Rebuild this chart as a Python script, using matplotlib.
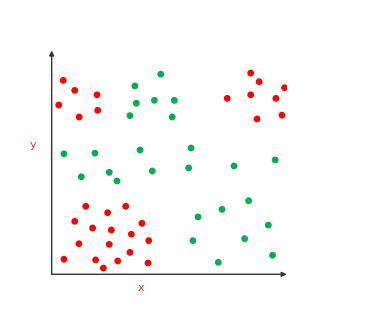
import numpy as np
import matplotlib.pyplot as plt

# red points (x, y)
red_x = [0.49, 0.98, 1.93, 0.30, 1.96, 1.17,
         8.47, 8.83, 9.91, 7.47, 8.47, 9.54, 9.80, 8.74,
         1.45, 3.15, 2.38, 0.98, 3.84, 1.74, 2.54, 3.39, 4.13,
         1.16, 2.45, 3.33, 0.52, 1.87, 2.81, 4.10, 2.20]
red_y = [8.75, 8.30, 8.10, 7.64, 7.40, 7.10,
         9.08, 8.69, 8.42, 7.94, 8.10, 7.94, 7.18, 7.01,
         3.07, 3.07, 2.78, 2.39, 2.30, 2.09, 2.00, 1.81, 1.52,
         1.38, 1.35, 0.99, 0.68, 0.65, 0.60, 0.51, 0.28]

# green points
green_x = [4.64, 3.54, 3.60, 4.37, 3.33, 5.22, 5.13,
           0.52, 1.84, 3.76, 5.93, 9.51,
           1.26, 2.45, 2.78, 4.28, 5.83, 7.76,
           8.38, 7.25, 6.23, 9.22, 6.01, 8.21, 9.40, 7.09]
green_y = [9.03, 8.50, 7.72, 7.85, 7.16, 7.85, 7.10,
           5.44, 5.47, 5.61, 5.70, 5.16,
           4.40, 4.60, 4.21, 4.66, 4.80, 4.89,
           3.32, 2.93, 2.59, 2.22, 1.52, 1.61, 0.86, 0.54]

fig = plt.figure(figsize=(3.65, 3.21), dpi=100)
ax = fig.add_axes([0.1416, 0.1455, 0.6438, 0.6903])
ax.set_xlim(0, 10)
ax.set_ylim(0, 10)

ax.scatter(red_x, red_y, s=24, color='#ff0000', edgecolors='none', zorder=3)
ax.scatter(green_x, green_y, s=24, color='#00b050', edgecolors='none', zorder=3)

# axes drawn as arrows
for s in ax.spines.values():
    s.set_visible(False)
ax.set_xticks([])
ax.set_yticks([])
arrow = dict(arrowstyle='-|>', color='#333333', lw=1.0, mutation_scale=7,
             shrinkA=0, shrinkB=0)
ax.annotate('', xy=(1.0, 0), xytext=(0, 0), xycoords='axes fraction',
            arrowprops=arrow)
ax.annotate('', xy=(0, 1.01), xytext=(0, 0), xycoords='axes fraction',
            arrowprops=arrow)

fig.text(141 / 365, 1 - 288 / 321, 'x', color='#e03030', fontsize=8,
         ha='center', va='center')
fig.text(33 / 365, 1 - 145 / 321, 'y', color='#e03030', fontsize=8,
         ha='center', va='center')

fig.savefig('out.png', dpi=100)
